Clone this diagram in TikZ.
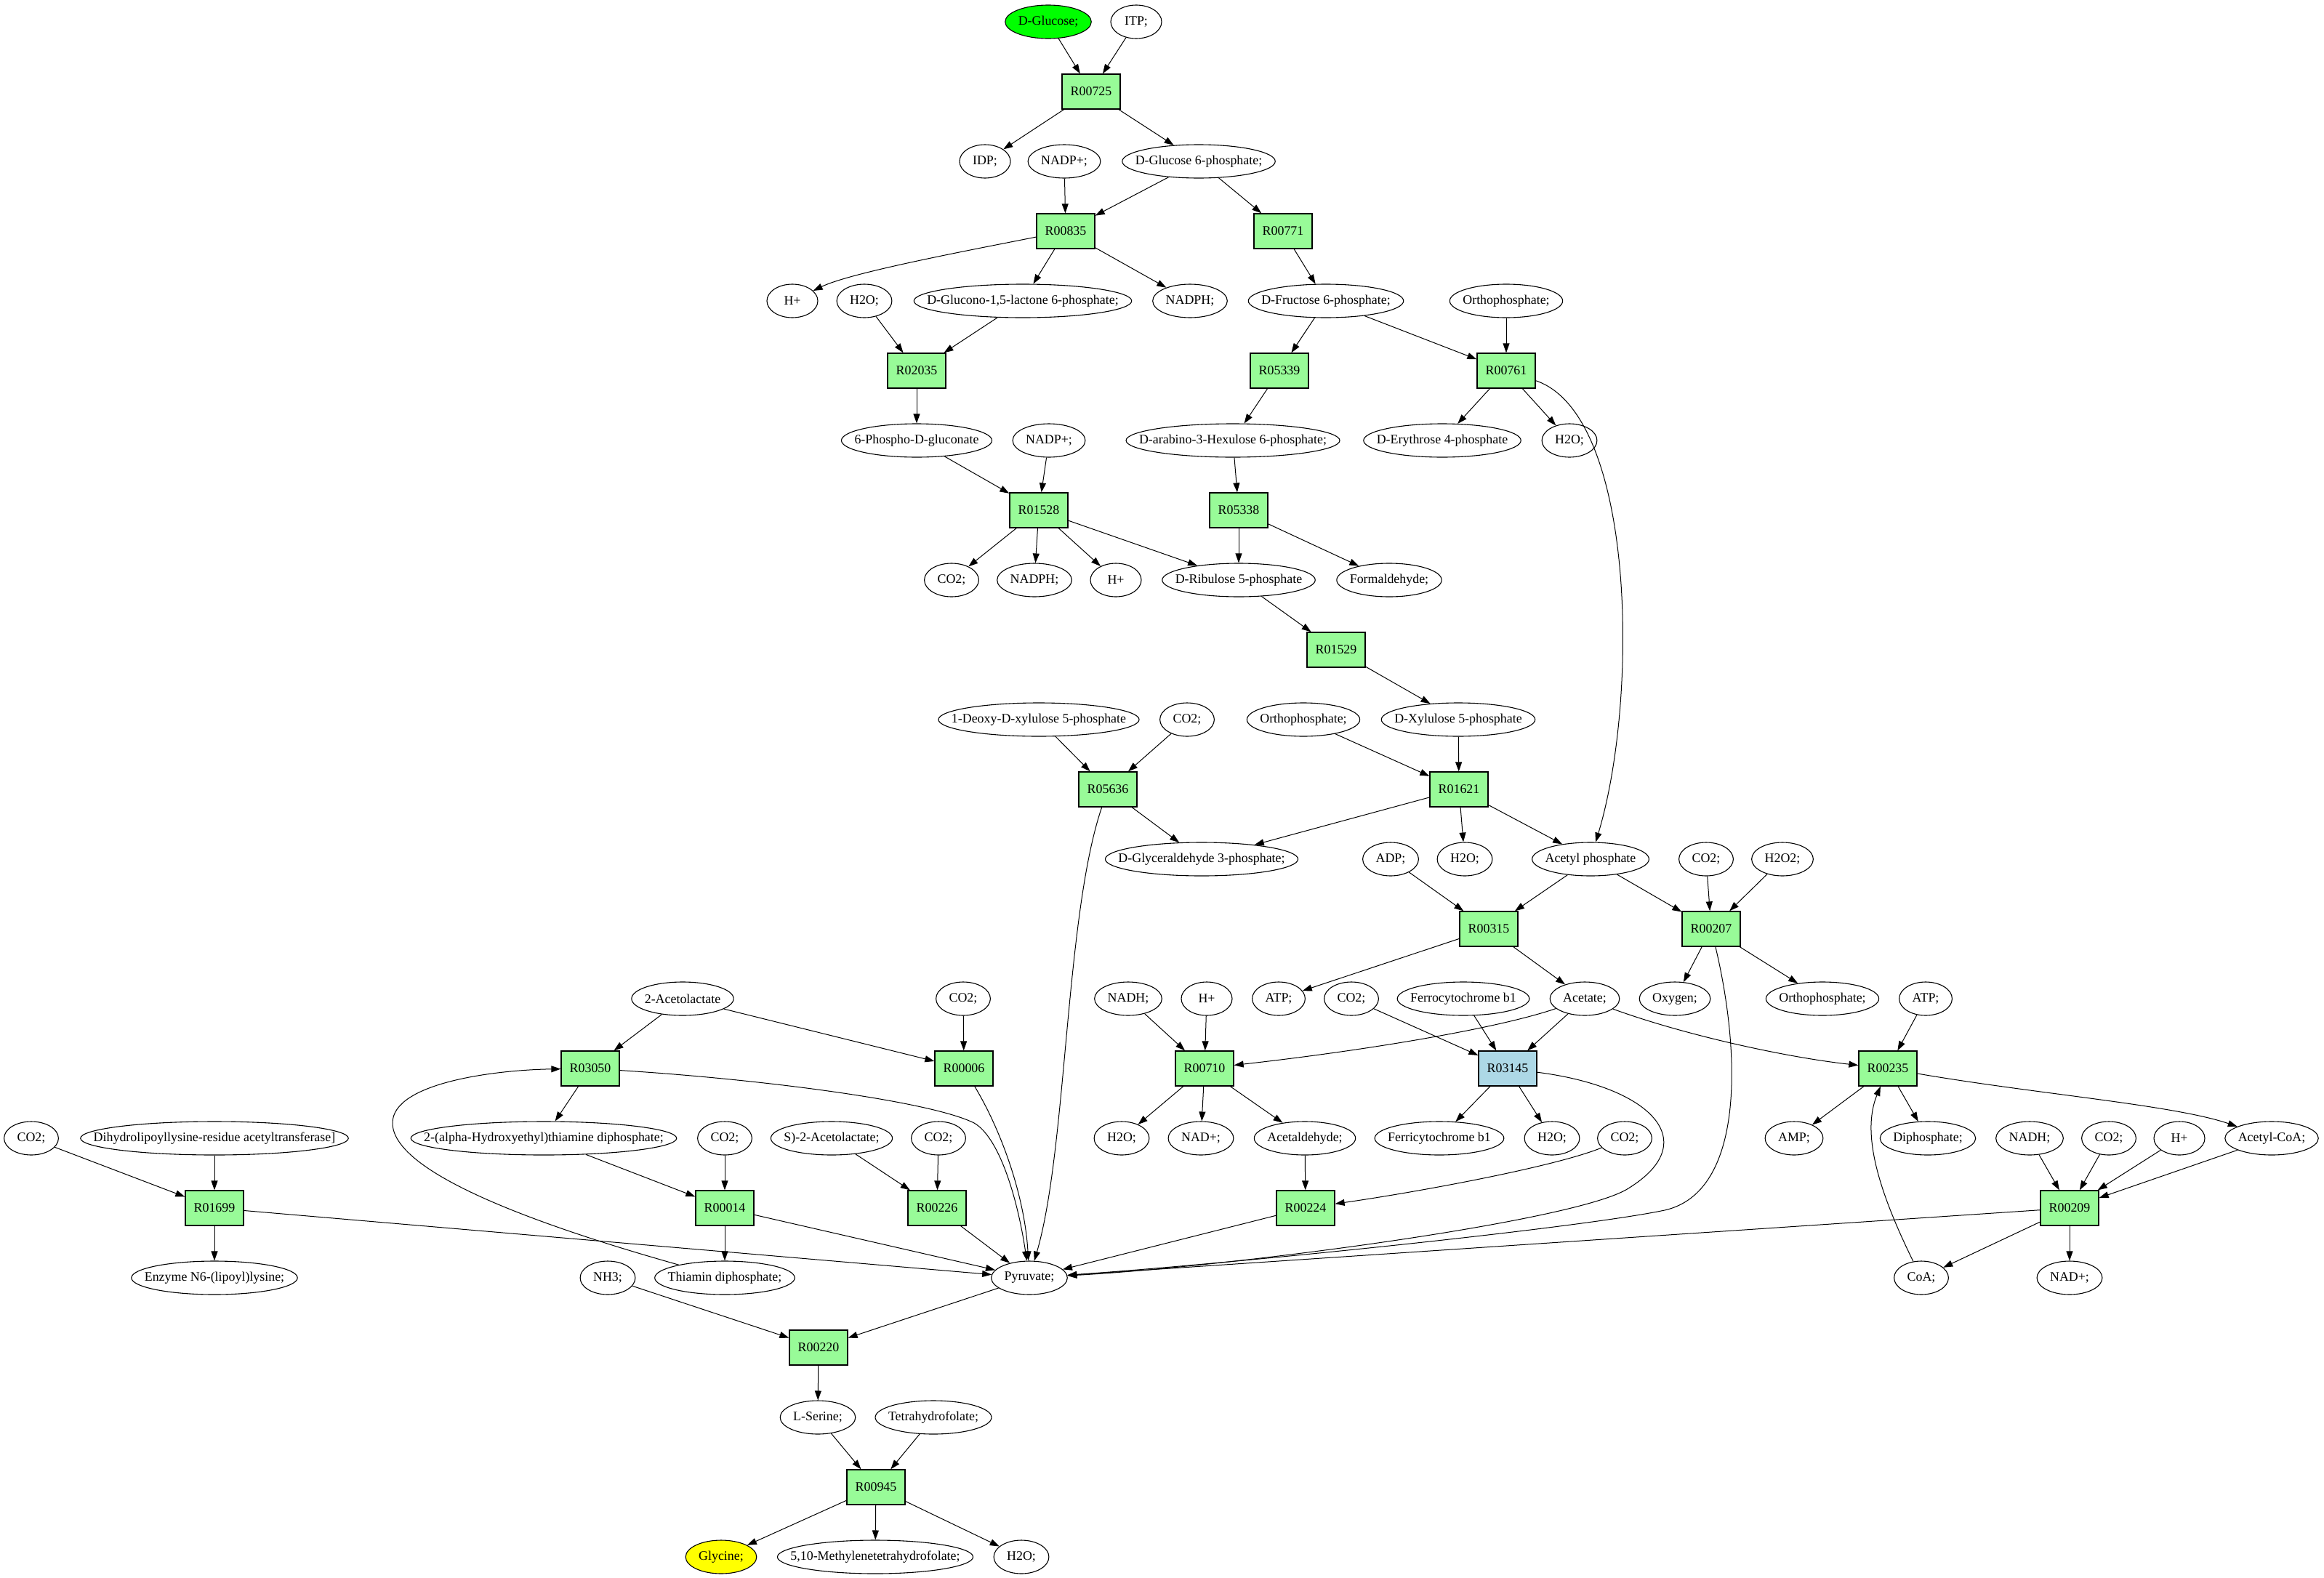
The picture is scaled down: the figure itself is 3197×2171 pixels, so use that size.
\documentclass[tikz,border=0pt]{standalone}
\usepackage{fontspec}
\setmainfont{Liberation Serif}
\usetikzlibrary{arrows.meta,shapes.geometric}
\definecolor{pgreen}{HTML}{98FB98}
\definecolor{lblue}{HTML}{ADD8E6}
\definecolor{gfill}{HTML}{00FF00}
\definecolor{yfill}{HTML}{FFFF00}
\newlength\mtw
\newcommand\nfont{\fontsize{17.9pt}{20pt}\selectfont}
\newcommand\metab[5][]{%
  \pgfinterruptpicture
    \settowidth\mtw{\nfont #5}%
    \xdef\mwtmp{\the\mtw}%
  \endpgfinterruptpicture
  \mtw=\mwtmp\relax
  \advance\mtw by 36pt\relax
  \ifdim\mtw<70pt\relax \mtw=70pt\relax\fi
  \edef\mw{\the\mtw}%
  \node[met,minimum width=\mw,#1] (#2) at (#3,#4) {\makebox[0pt]{#5}};%
}
\newcommand\reac[5][]{\node[rxn,#1] (#2) at (#3,#4) {#5};}
\begin{document}
\begin{tikzpicture}[x=1pt,y=-1pt,font=\nfont,
  met/.style={ellipse,draw,line width=1.1pt,minimum height=46pt,inner sep=0pt},
  rxn/.style={rectangle,draw,line width=1.3pt,fill=pgreen,minimum width=80pt,minimum height=48pt,inner sep=0pt},
  e/.style={line width=1pt,-{Triangle[length=13pt,width=9pt]}}]
\useasboundingbox (0,0) rectangle (3197,2171);
% row 0-3
\metab[fill=gfill]{glc}{1442}{30}{D-Glucose;}
\metab{itp}{1563}{30}{ITP;}
\reac{r00725}{1501}{126}{R00725}
\metab{idp}{1355}{222}{IDP;}
\metab{nadpa}{1464}{222}{NADP+;}
\metab{gsixp}{1649}{222}{D-Glucose 6-phosphate;}
\reac{r00835}{1466}{318}{R00835}
\reac{r00771}{1765}{318}{R00771}
% row 4-6
\metab{hpa}{1090}{414}{H+}
\metab{wa}{1189}{414}{H2O;}
\metab{glac}{1407}{414}{D-Glucono-1,5-lactone 6-phosphate;}
\metab{nadpha}{1637}{414}{NADPH;}
\metab{fsixp}{1824}{414}{D-Fructose 6-phosphate;}
\metab{pia}{2072}{414}{Orthophosphate;}
\reac{r02035}{1261}{510}{R02035}
\reac{r05339}{1760}{510}{R05339}
\reac{r00761}{2072}{510}{R00761}
\metab{pgl}{1261}{606}{6-Phospho-D-gluconate}
\metab{nadpb}{1443}{606}{NADP+;}
\metab{hex}{1696}{606}{D-arabino-3-Hexulose 6-phosphate;}
\metab{efourp}{1984}{606}{D-Erythrose 4-phosphate}
\metab{wb}{2159}{606}{H2O;}
% row 7-11
\reac{r01528}{1429}{702}{R01528}
\reac{r05338}{1704}{702}{R05338}
\metab{ca}{1309}{798}{CO2;}
\metab{nadphb}{1423}{798}{NADPH;}
\metab{hpb}{1535}{798}{H+}
\metab{rufp}{1704}{798}{D-Ribulose 5-phosphate}
\metab{form}{1911}{798}{Formaldehyde;}
\reac{r01529}{1838}{894}{R01529}
\metab{dxp}{1429}{990}{1-Deoxy-D-xylulose 5-phosphate}
\metab{cb}{1633}{990}{CO2;}
\metab{pib}{1793}{990}{Orthophosphate;}
\metab{xufp}{2006}{990}{D-Xylulose 5-phosphate}
\reac{r05636}{1524}{1086}{R05636}
\reac{r01621}{2007}{1086}{R01621}
% row 12-13
\metab{gap}{1653}{1182}{D-Glyceraldehyde 3-phosphate;}
\metab{adp}{1913}{1182}{ADP;}
\metab{wc}{2015}{1182}{H2O;}
\metab{acp}{2188}{1182}{Acetyl phosphate}
\metab{cc}{2347}{1182}{CO2;}
\metab{hperox}{2452}{1182}{H2O2;}
\reac{r00315}{2048}{1278}{R00315}
\reac{r00207}{2354}{1278}{R00207}
% row 14-15
\metab{acl}{939}{1374}{2-Acetolactate}
\metab{cd}{1325}{1374}{CO2;}
\metab{nadha}{1552}{1374}{NADH;}
\metab{hpc}{1660}{1374}{H+}
\metab{atpa}{1759}{1374}{ATP;}
\metab{ce}{1859}{1374}{CO2;}
\metab{ferro}{2013}{1374}{Ferrocytochrome b1}
\metab{ace}{2180}{1374}{Acetate;}
\metab{oxy}{2304}{1374}{Oxygen;}
\metab{pic}{2507}{1374}{Orthophosphate;}
\metab{atpb}{2649}{1374}{ATP;}
\reac{r03050}{812}{1470}{R03050}
\reac{r00006}{1326}{1470}{R00006}
\reac{r00710}{1657}{1470}{R00710}
\reac[fill=lblue]{r03145}{2074}{1470}{R03145}
\reac{r00235}{2597}{1470}{R00235}
% row 16-18
\metab{cf}{43}{1566}{CO2;}
\metab{dhl}{295}{1566}{Dihydrolipoyllysine-residue acetyltransferase]}
\metab{hetpp}{748}{1566}{2-(alpha-Hydroxyethyl)thiamine diphosphate;}
\metab{cg}{997}{1566}{CO2;}
\metab{sacl}{1144}{1566}{S)-2-Acetolactate;}
\metab{ch}{1291}{1566}{CO2;}
\metab{wd}{1543}{1566}{H2O;}
\metab{nada}{1652}{1566}{NAD+;}
\metab{acald}{1795}{1566}{Acetaldehyde;}
\metab{ferri}{1980}{1566}{Ferricytochrome b1}
\metab{we}{2135}{1566}{H2O;}
\metab{ci}{2235}{1566}{CO2;}
\metab{amp}{2468}{1566}{AMP;}
\metab{ppi}{2652}{1566}{Diphosphate;}
\metab{nadhb}{2792}{1566}{NADH;}
\metab{cj}{2901}{1566}{CO2;}
\metab{hpd}{2998}{1566}{H+}
\metab{accoa}{3125}{1566}{Acetyl-CoA;}
\reac{r01699}{295}{1662}{R01699}
\reac{r00014}{997}{1662}{R00014}
\reac{r00226}{1289}{1662}{R00226}
\reac{r00224}{1796}{1662}{R00224}
\reac{r00209}{2847}{1662}{R00209}
\metab{enz}{295}{1758}{Enzyme N6-(lipoyl)lysine;}
\metab{nh}{836}{1758}{NH3;}
\metab{tpp}{997}{1758}{Thiamin diphosphate;}
\metab{pyr}{1416}{1758}{Pyruvate;}
\metab{coa}{2643}{1758}{CoA;}
\metab{nadb}{2847}{1758}{NAD+;}
% row 19-22
\reac{r00220}{1126}{1854}{R00220}
\metab{ser}{1125}{1950}{L-Serine;}
\metab{thf}{1284}{1950}{Tetrahydrofolate;}
\reac{r00945}{1205}{2046}{R00945}
\metab[fill=yfill]{gly}{992}{2142}{Glycine;}
\metab{mthf}{1204}{2142}{5,10-Methylenetetrahydrofolate;}
\metab{wf}{1405}{2142}{H2O;}
% edges
\draw[e] (glc) -- (r00725);
\draw[e] (itp) -- (r00725);
\draw[e] (r00725) -- (idp);
\draw[e] (r00725) -- (gsixp);
\draw[e] (nadpa) -- (r00835);
\draw[e] (gsixp) -- (r00835);
\draw[e] (gsixp) -- (r00771);
\draw[e] (r00835) .. controls (1330,345) and (1170,375) .. (hpa);
\draw[e] (r00835) -- (glac);
\draw[e] (r00835) -- (nadpha);
\draw[e] (r00771) -- (fsixp);
\draw[e] (wa) -- (r02035);
\draw[e] (glac) -- (r02035);
\draw[e] (fsixp) -- (r05339);
\draw[e] (fsixp) -- (r00761);
\draw[e] (pia) -- (r00761);
\draw[e] (r02035) -- (pgl);
\draw[e] (r05339) -- (hex);
\draw[e] (r00761) -- (efourp);
\draw[e] (r00761) -- (wb);
\draw[e] (r00761) .. controls (2250,570) and (2255,960) .. (acp);
\draw[e] (pgl) -- (r01528);
\draw[e] (nadpb) -- (r01528);
\draw[e] (hex) -- (r05338);
\draw[e] (r01528) -- (ca);
\draw[e] (r01528) -- (nadphb);
\draw[e] (r01528) -- (hpb);
\draw[e] (r01528) -- (rufp);
\draw[e] (r05338) -- (rufp);
\draw[e] (r05338) -- (form);
\draw[e] (rufp) -- (r01529);
\draw[e] (r01529) -- (xufp);
\draw[e] (dxp) -- (r05636);
\draw[e] (cb) -- (r05636);
\draw[e] (pib) -- (r01621);
\draw[e] (xufp) -- (r01621);
\draw[e] (r05636) -- (gap);
\draw[e] (r05636) .. controls (1465,1260) and (1468,1580) .. (pyr);
\draw[e] (r01621) -- (gap);
\draw[e] (r01621) -- (wc);
\draw[e] (r01621) -- (acp);
\draw[e] (adp) -- (r00315);
\draw[e] (acp) -- (r00315);
\draw[e] (acp) -- (r00207);
\draw[e] (cc) -- (r00207);
\draw[e] (hperox) -- (r00207);
\draw[e] (r00315) -- (atpa);
\draw[e] (r00315) -- (ace);
\draw[e] (r00207) -- (oxy);
\draw[e] (r00207) -- (pic);
\draw[e] (r00207) .. controls (2395,1450) and (2400,1640) .. (2290,1665) .. controls (2170,1690) and (1700,1738) .. (pyr);
\draw[e] (acl) -- (r03050);
\draw[e] (acl) -- (r00006);
\draw[e] (cd) -- (r00006);
\draw[e] (nadha) -- (r00710);
\draw[e] (hpc) -- (r00710);
\draw[e] (ace) .. controls (2060,1415) and (1880,1445) .. (r00710);
\draw[e] (ce) -- (r03145);
\draw[e] (ferro) -- (r03145);
\draw[e] (ace) -- (r03145);
\draw[e] (ace) .. controls (2320,1425) and (2460,1455) .. (r00235);
\draw[e] (atpb) -- (r00235);
\draw[e] (r03050) -- (hetpp);
\draw[e] (r03050) .. controls (1050,1485) and (1280,1515) .. (1340,1545) .. controls (1375,1565) and (1400,1650) .. (pyr);
\draw[e] (r00006) .. controls (1380,1560) and (1410,1650) .. (pyr);
\draw[e] (r00710) -- (wd);
\draw[e] (r00710) -- (nada);
\draw[e] (r00710) -- (acald);
\draw[e] (r03145) -- (ferri);
\draw[e] (r03145) -- (we);
\draw[e] (r03145) .. controls (2270,1495) and (2345,1570) .. (2240,1635) .. controls (2170,1680) and (1700,1742) .. (pyr);
\draw[e] (r00235) -- (amp);
\draw[e] (r00235) -- (ppi);
\draw[e] (r00235) .. controls (2800,1505) and (2990,1520) .. (accoa);
\draw[e] (cf) -- (r01699);
\draw[e] (dhl) -- (r01699);
\draw[e] (hetpp) -- (r00014);
\draw[e] (cg) -- (r00014);
\draw[e] (sacl) -- (r00226);
\draw[e] (ch) -- (r00226);
\draw[e] (acald) -- (r00224);
\draw[e] (ci) .. controls (2140,1605) and (1950,1640) .. (r00224);
\draw[e] (nadhb) -- (r00209);
\draw[e] (cj) -- (r00209);
\draw[e] (hpd) -- (r00209);
\draw[e] (accoa) -- (r00209);
\draw[e] (r01699) -- (enz);
\draw[e] (r01699) -- (pyr);
\draw[e] (r00014) -- (tpp);
\draw[e] (r00014) -- (pyr);
\draw[e] (r00226) -- (pyr);
\draw[e] (r00224) -- (pyr);
\draw[e] (r00209) -- (pyr);
\draw[e] (r00209) -- (coa);
\draw[e] (r00209) -- (nadb);
\draw[e] (coa) .. controls (2585,1640) and (2560,1560) .. (r00235);
\draw[e] (tpp) .. controls (720,1680) and (540,1610) .. (540,1545) .. controls (540,1490) and (680,1472) .. (r03050);
\draw[e] (nh) -- (r00220);
\draw[e] (pyr) -- (r00220);
\draw[e] (r00220) -- (ser);
\draw[e] (ser) -- (r00945);
\draw[e] (thf) -- (r00945);
\draw[e] (r00945) -- (gly);
\draw[e] (r00945) -- (mthf);
\draw[e] (r00945) -- (wf);
\end{tikzpicture}
\end{document}
